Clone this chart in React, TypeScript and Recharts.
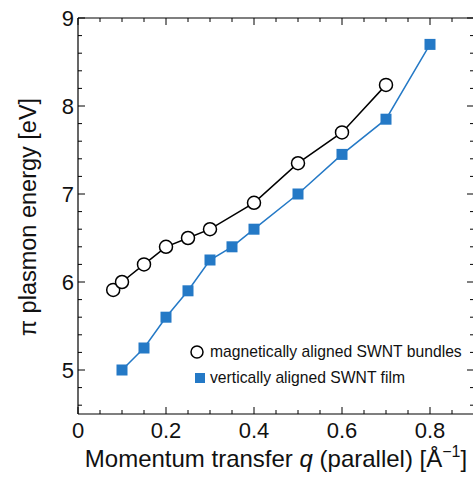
import React from 'react';
import { LineChart, Line, XAxis, YAxis, Legend } from 'recharts';

// momentum transfer q [1/Å] and pi plasmon energy [eV]
const bundleQ = [0.08, 0.1, 0.15, 0.2, 0.25, 0.3, 0.4, 0.5, 0.6, 0.7];
const bundleE = [5.91, 6.0, 6.2, 6.4, 6.5, 6.6, 6.9, 7.35, 7.7, 8.24];
const filmQ = [0.1, 0.15, 0.2, 0.25, 0.3, 0.35, 0.4, 0.5, 0.6, 0.7, 0.8];
const filmE = [5.0, 5.25, 5.6, 5.9, 6.25, 6.4, 6.6, 7.0, 7.45, 7.85, 8.7];

const xTicks = [0, 0.05, 0.1, 0.15, 0.2, 0.25, 0.3, 0.35, 0.4, 0.45, 0.5, 0.55, 0.6, 0.65, 0.7, 0.75, 0.8, 0.85, 0.9];
const xMajor = [0, 0.2, 0.4, 0.6, 0.8];
const yTicks = [4.6, 4.8, 5, 5.2, 5.4, 5.6, 5.8, 6, 6.2, 6.4, 6.6, 6.8, 7, 7.2, 7.4, 7.6, 7.8, 8, 8.2, 8.4, 8.6, 8.8, 9];
const yMajor = [5, 6, 7, 8, 9];

const bundleData = bundleQ.map((q, i) => ({ q, e: bundleE[i] }));
const filmData = filmQ.map((q, i) => ({ q, e: filmE[i] }));

const FONT = '"Liberation Sans", Arial, Helvetica, sans-serif';
const BLUE = '#2479c6';

const isMajor = (list: number[], v: number) => list.some((m) => Math.abs(m - v) < 1e-6);

const BottomTick = (props: any) => {
  const { x, y, payload } = props;
  const major = isMajor(xMajor, payload.value);
  return (
    <g>
      <line x1={x} x2={x} y1={y} y2={y - (major ? 7 : 4)} stroke="#000" />
      {major && (
        <text x={x} y={y + 24} textAnchor="middle" fontSize={22} fontFamily={FONT} fill="#111">
          {String(payload.value)}
        </text>
      )}
    </g>
  );
};

const TopTick = (props: any) => {
  const { x, y, payload } = props;
  const major = isMajor(xMajor, payload.value);
  return <line x1={x} x2={x} y1={y} y2={y + (major ? 7 : 4)} stroke="#000" />;
};

const LeftTick = (props: any) => {
  const { x, y, payload } = props;
  const major = isMajor(yMajor, payload.value);
  return (
    <g>
      <line x1={x} x2={x + (major ? 7 : 4)} y1={y} y2={y} stroke="#000" />
      {major && (
        <text x={x - 4} y={y + 8} textAnchor="end" fontSize={22} fontFamily={FONT} fill="#111">
          {String(payload.value)}
        </text>
      )}
    </g>
  );
};

const RightTick = (props: any) => {
  const { x, y, payload } = props;
  const major = isMajor(yMajor, payload.value);
  return <line x1={x} x2={x - (major ? 7 : 4)} y1={y} y2={y} stroke="#000" />;
};

const SquareDot = (props: any) => {
  const { cx, cy, index } = props;
  if (cx == null || cy == null) return null;
  return <rect key={`sq-${index}`} x={cx - 5.5} y={cy - 5.5} width={11} height={11} fill={BLUE} />;
};

const XLabel = () => (
  <text x={276} y={467} textAnchor="middle" fontSize={24} fontFamily={FONT} fill="#111">
    Momentum transfer <tspan fontStyle="italic">q</tspan> (parallel) [Å
    <tspan fontSize={16} dy={-10}>−1</tspan>
    <tspan dy={10}>]</tspan>
  </text>
);

const YLabel = () => (
  <text x={36} y={217} transform="rotate(-90, 36, 217)" textAnchor="middle" fontSize={23.5} fontFamily={FONT} fill="#111">
    π plasmon energy [eV]
  </text>
);

const renderLegend = () => (
  <div style={{ fontFamily: FONT, fontSize: 15.7, color: '#111' }}>
    <div style={{ display: 'flex', alignItems: 'center', height: 26 }}>
      <svg width={16} height={16}>
        <circle cx={8} cy={8} r={6} fill="none" stroke="#000" strokeWidth={1.5} />
      </svg>
      <span style={{ marginLeft: 5 }}>magnetically aligned SWNT bundles</span>
    </div>
    <div style={{ display: 'flex', alignItems: 'center', height: 26 }}>
      <svg width={16} height={16}>
        <rect x={6} y={3} width={10} height={10} fill={BLUE} />
      </svg>
      <span style={{ marginLeft: 5 }}>vertically aligned SWNT film</span>
    </div>
  </div>
);

export default function App() {
  return (
    <div style={{ position: 'absolute', left: 0, top: 0, width: 473, height: 477, overflow: 'hidden', background: '#fff' }}>
      <LineChart width={475} height={477} margin={{ top: 17, right: 0, bottom: 0, left: 18 }}>
        <XAxis
          type="number"
          dataKey="q"
          domain={[0, 0.9]}
          allowDataOverflow
          ticks={xTicks}
          interval={0}
          tick={BottomTick}
          tickSize={0}
          tickMargin={0}
          height={63}
          axisLine={{ stroke: '#000', strokeWidth: 1.2 }}
          label={<XLabel />}
        />
        <XAxis
          xAxisId="top"
          orientation="top"
          type="number"
          dataKey="q"
          domain={[0, 0.9]}
          allowDataOverflow
          ticks={xTicks}
          interval={0}
          tick={TopTick}
          tickSize={0}
          tickMargin={0}
          height={1}
          axisLine={{ stroke: '#000', strokeWidth: 1.2 }}
        />
        <YAxis
          type="number"
          dataKey="e"
          domain={[4.5, 9]}
          allowDataOverflow
          ticks={yTicks}
          interval={0}
          tick={LeftTick}
          tickSize={0}
          tickMargin={0}
          width={60}
          axisLine={{ stroke: '#000', strokeWidth: 1.2 }}
          label={<YLabel />}
        />
        <YAxis
          yAxisId="right"
          orientation="right"
          type="number"
          dataKey="e"
          domain={[4.5, 9]}
          allowDataOverflow
          ticks={yTicks}
          interval={0}
          tick={RightTick}
          tickSize={0}
          tickMargin={0}
          width={1}
          axisLine={false}
        />
        <Legend
          layout="vertical"
          align="center"
          verticalAlign="middle"
          content={renderLegend}
          wrapperStyle={{ left: 189, top: 339, width: 'auto', height: 'auto' }}
        />
        <Line
          data={filmData}
          dataKey="e"
          type="linear"
          stroke={BLUE}
          strokeWidth={1.5}
          dot={SquareDot}
          activeDot={false}
          isAnimationActive={false}
        />
        <Line
          data={bundleData}
          dataKey="e"
          type="linear"
          stroke="#000"
          strokeWidth={1.5}
          dot={{ r: 6.5, fill: '#fff', stroke: '#000', strokeWidth: 1.5 }}
          activeDot={false}
          isAnimationActive={false}
        />
      </LineChart>
    </div>
  );
}
